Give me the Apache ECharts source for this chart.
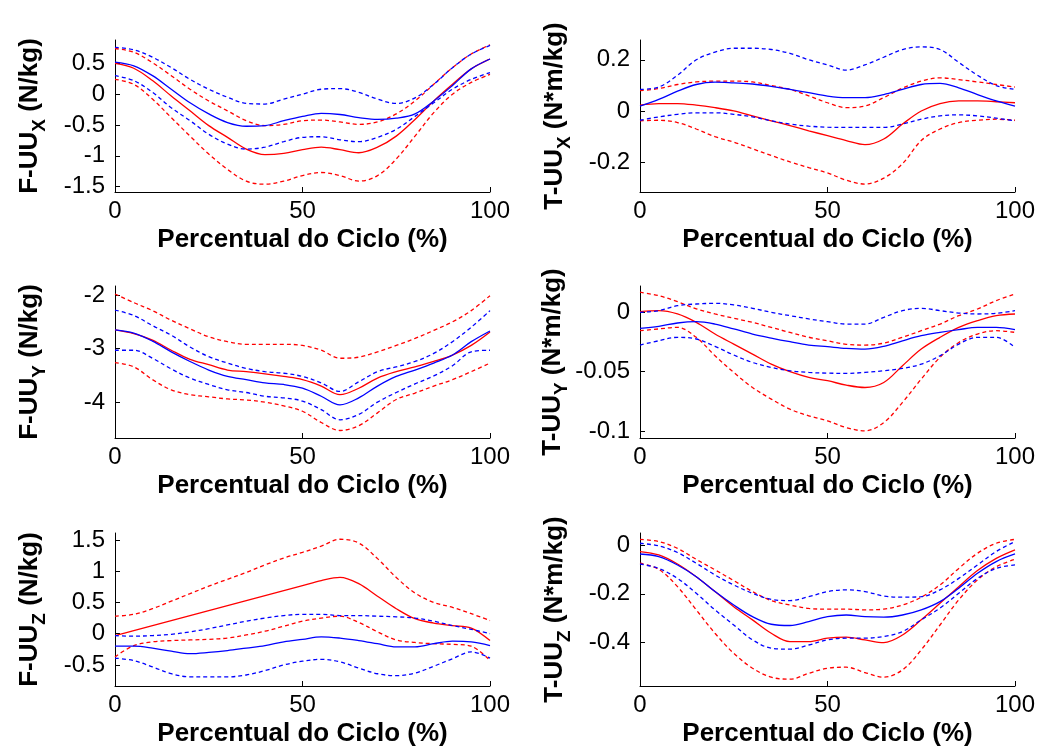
<!DOCTYPE html>
<html>
<head>
<meta charset="utf-8">
<script src="https://cdn.jsdelivr.net/npm/echarts@6/dist/echarts.min.js"></script>
<style>
  html, body { margin: 0; padding: 0; background: #ffffff; }
  #chart { width: 1042px; height: 751px; }
</style>
</head>
<body>
<div id="chart"></div>
<script>
// Gait cycle sampling (% of cycle)
const cycle = [0,5,10,15,20,25,30,35,40,45,50,55,60,65,70,75,80,85,90,95,100];

// F-UU X (N/kg)
const fxRedUp    = [0.74,0.68,0.51,0.30,0.08,-0.11,-0.27,-0.43,-0.51,-0.49,-0.43,-0.42,-0.45,-0.49,-0.45,-0.32,-0.11,0.16,0.43,0.65,0.80];
const fxRedMean  = [0.50,0.42,0.22,-0.03,-0.27,-0.51,-0.70,-0.89,-0.98,-0.96,-0.90,-0.86,-0.90,-0.95,-0.86,-0.68,-0.41,-0.11,0.16,0.41,0.57];
const fxRedLow   = [0.24,0.16,-0.08,-0.38,-0.68,-0.97,-1.22,-1.41,-1.46,-1.41,-1.32,-1.27,-1.32,-1.41,-1.32,-1.05,-0.68,-0.30,0.00,0.19,0.32];
const fxBlueUp   = [0.76,0.72,0.60,0.43,0.24,0.08,-0.05,-0.15,-0.16,-0.08,0.00,0.08,0.09,0.03,-0.08,-0.15,-0.06,0.16,0.43,0.65,0.79];
const fxBlueMean = [0.52,0.46,0.30,0.08,-0.14,-0.32,-0.46,-0.52,-0.51,-0.43,-0.36,-0.31,-0.33,-0.38,-0.41,-0.39,-0.32,-0.11,0.14,0.41,0.57];
const fxBlueLow  = [0.30,0.22,0.03,-0.22,-0.43,-0.65,-0.81,-0.89,-0.86,-0.77,-0.70,-0.69,-0.74,-0.77,-0.70,-0.57,-0.36,-0.14,0.08,0.24,0.35];
const fxTicks = [-1.5,-1,-0.5,0,0.5];

// T-UU X (N*m/kg)
const txRedUp    = [0.08,0.088,0.104,0.114,0.117,0.117,0.114,0.10,0.085,0.06,0.033,0.014,0.02,0.053,0.09,0.117,0.13,0.123,0.114,0.104,0.094];
const txRedMean  = [0.024,0.03,0.03,0.024,0.014,0.001,-0.018,-0.037,-0.056,-0.076,-0.095,-0.114,-0.13,-0.108,-0.05,0.001,0.03,0.04,0.04,0.037,0.033];
const txRedLow   = [-0.037,-0.035,-0.044,-0.069,-0.099,-0.12,-0.146,-0.172,-0.197,-0.219,-0.24,-0.268,-0.283,-0.26,-0.204,-0.114,-0.069,-0.044,-0.035,-0.031,-0.035];
const txBlueUp   = [0.085,0.094,0.14,0.20,0.23,0.245,0.245,0.24,0.225,0.20,0.18,0.16,0.18,0.21,0.24,0.25,0.24,0.19,0.14,0.10,0.085];
const txBlueMean = [0.02,0.046,0.078,0.104,0.113,0.11,0.106,0.097,0.085,0.072,0.059,0.053,0.053,0.065,0.085,0.104,0.108,0.091,0.065,0.04,0.02];
const txBlueLow  = [-0.035,-0.022,-0.012,-0.006,-0.006,-0.012,-0.022,-0.037,-0.05,-0.058,-0.062,-0.063,-0.063,-0.063,-0.05,-0.031,-0.018,-0.014,-0.018,-0.027,-0.037];
const txTicks = [-0.2,0,0.2];

// F-UU Y (N/kg)
const fyRedUp    = [-1.98,-2.14,-2.29,-2.47,-2.63,-2.78,-2.87,-2.92,-2.92,-2.92,-2.94,-3.03,-3.18,-3.16,-3.06,-2.94,-2.81,-2.66,-2.50,-2.29,-2.01];
const fyRedMean  = [-2.65,-2.72,-2.84,-3.03,-3.20,-3.30,-3.40,-3.43,-3.47,-3.52,-3.58,-3.70,-3.86,-3.74,-3.55,-3.43,-3.34,-3.24,-3.12,-2.94,-2.69];
const fyRedLow   = [-3.26,-3.34,-3.58,-3.77,-3.86,-3.90,-3.94,-3.96,-4.00,-4.07,-4.17,-4.38,-4.53,-4.44,-4.20,-3.95,-3.83,-3.70,-3.58,-3.43,-3.27];
const fyBlueUp   = [-2.28,-2.38,-2.57,-2.75,-2.97,-3.15,-3.27,-3.37,-3.43,-3.46,-3.52,-3.64,-3.80,-3.62,-3.43,-3.34,-3.24,-3.09,-2.87,-2.60,-2.29];
const fyBlueMean = [-2.65,-2.71,-2.86,-3.06,-3.24,-3.40,-3.52,-3.58,-3.64,-3.67,-3.74,-3.89,-4.05,-3.92,-3.70,-3.52,-3.40,-3.27,-3.12,-2.87,-2.67];
const fyBlueLow  = [-3.03,-3.03,-3.18,-3.38,-3.55,-3.67,-3.77,-3.82,-3.89,-3.92,-3.98,-4.14,-4.33,-4.23,-4.00,-3.82,-3.66,-3.51,-3.32,-3.06,-3.03];
const fyTicks = [-4,-3,-2];

// T-UU Y (N*m/kg)
const tyRedUp    = [0.017,0.014,0.009,0.003,-0.0014,-0.005,-0.0085,-0.0127,-0.017,-0.021,-0.024,-0.027,-0.0276,-0.026,-0.021,-0.0155,-0.0099,-0.0028,0.0028,0.0099,0.0155];
const tyRedMean  = [0.0006,0.0014,-0.0014,-0.0085,-0.0183,-0.0268,-0.0352,-0.0437,-0.0501,-0.0549,-0.0577,-0.0614,-0.0634,-0.0592,-0.045,-0.031,-0.0211,-0.0127,-0.007,-0.0028,-0.0014];
const tyRedLow   = [-0.0155,-0.014,-0.0127,-0.0211,-0.0366,-0.0507,-0.0634,-0.0732,-0.0817,-0.0873,-0.0915,-0.0972,-0.1,-0.093,-0.076,-0.0563,-0.038,-0.0254,-0.0183,-0.0155,-0.0169];
const tyBlueUp   = [0,0.0014,0.0056,0.007,0.0076,0.0062,0.0034,0,-0.0028,-0.0056,-0.0079,-0.0099,-0.0099,-0.0042,0.0014,0.0034,0.0014,-0.0006,-0.0014,-0.0008,0.0014];
const tyBlueMean = [-0.0135,-0.0118,-0.009,-0.0079,-0.0099,-0.014,-0.0183,-0.0217,-0.0248,-0.0276,-0.029,-0.0304,-0.031,-0.0287,-0.024,-0.0197,-0.0169,-0.0146,-0.0127,-0.0127,-0.0146];
const tyBlueLow  = [-0.0276,-0.024,-0.0211,-0.0225,-0.0287,-0.036,-0.0423,-0.0465,-0.0493,-0.0507,-0.0513,-0.0515,-0.0507,-0.0493,-0.0473,-0.0437,-0.0366,-0.0268,-0.0211,-0.0211,-0.0296];
const tyTicks = [-0.1,-0.05,0];

// F-UU Z (N/kg)
const fzRedUp    = [0.28,0.31,0.40,0.52,0.64,0.76,0.87,0.98,1.10,1.21,1.30,1.40,1.51,1.45,1.20,0.90,0.65,0.50,0.42,0.32,0.21];
const fzRedMean  = [-0.03,0.05,0.13,0.21,0.29,0.37,0.45,0.53,0.61,0.69,0.77,0.85,0.90,0.80,0.60,0.40,0.24,0.17,0.13,0.09,-0.11];
const fzRedLow   = [-0.37,-0.19,-0.13,-0.11,-0.10,-0.09,-0.07,-0.02,0.04,0.12,0.20,0.25,0.28,0.18,0.03,-0.10,-0.14,-0.16,-0.17,-0.20,-0.43];
const fzBlueUp   = [-0.03,-0.04,-0.03,-0.01,0.03,0.08,0.14,0.20,0.25,0.29,0.31,0.31,0.29,0.29,0.28,0.27,0.25,0.20,0.13,0.07,0.00];
const fzBlueMean = [-0.20,-0.20,-0.23,-0.28,-0.32,-0.30,-0.27,-0.23,-0.19,-0.13,-0.09,-0.05,-0.07,-0.11,-0.16,-0.21,-0.21,-0.16,-0.12,-0.13,-0.19];
const fzBlueLow  = [-0.39,-0.43,-0.53,-0.64,-0.69,-0.69,-0.69,-0.66,-0.59,-0.50,-0.44,-0.41,-0.45,-0.55,-0.64,-0.67,-0.63,-0.52,-0.40,-0.29,-0.39];
const fzTicks = [-0.5,0,0.5,1,1.5];

// T-UU Z (N*m/kg)
const tzRedUp    = [0.023,0.014,-0.014,-0.059,-0.102,-0.146,-0.191,-0.228,-0.246,-0.26,-0.263,-0.263,-0.266,-0.263,-0.246,-0.214,-0.164,-0.096,-0.034,0.007,0.023];
const tzRedMean  = [-0.027,-0.041,-0.078,-0.13,-0.191,-0.253,-0.307,-0.362,-0.396,-0.396,-0.382,-0.378,-0.389,-0.4,-0.369,-0.307,-0.239,-0.171,-0.105,-0.055,-0.02];
const tzRedLow   = [-0.075,-0.1,-0.171,-0.266,-0.362,-0.444,-0.505,-0.542,-0.55,-0.526,-0.505,-0.501,-0.523,-0.542,-0.512,-0.43,-0.328,-0.225,-0.143,-0.089,-0.059];
const tzBlueUp   = [0.007,-0.004,-0.031,-0.075,-0.123,-0.164,-0.198,-0.223,-0.228,-0.212,-0.191,-0.184,-0.191,-0.209,-0.214,-0.212,-0.184,-0.137,-0.082,-0.027,0.014];
const tzBlueMean = [-0.037,-0.048,-0.082,-0.13,-0.191,-0.246,-0.294,-0.325,-0.33,-0.314,-0.294,-0.287,-0.294,-0.296,-0.287,-0.266,-0.232,-0.177,-0.116,-0.068,-0.037];
const tzBlueLow  = [-0.078,-0.096,-0.137,-0.198,-0.266,-0.328,-0.389,-0.423,-0.427,-0.41,-0.389,-0.382,-0.382,-0.375,-0.355,-0.307,-0.259,-0.198,-0.137,-0.096,-0.082];
const tzTicks = [-0.4,-0.2,0];

const xTitle = 'Percentual do Ciclo (%)';

// Panels in reading order: row by row, left then right
const panels = [
  { label: ['F-UU', 'X', ' (N/kg)'],   ticks: fxTicks, min: -1.586, max: 0.878,
    red: [fxRedUp, fxRedMean, fxRedLow], blue: [fxBlueUp, fxBlueMean, fxBlueLow] },
  { label: ['T-UU', 'X', ' (N*m/kg)'], ticks: txTicks, min: -0.314, max: 0.277,
    red: [txRedUp, txRedMean, txRedLow], blue: [txBlueUp, txBlueMean, txBlueLow] },
  { label: ['F-UU', 'Y', ' (N/kg)'],   ticks: fyTicks, min: -4.67, max: -1.83,
    red: [fyRedUp, fyRedMean, fyRedLow], blue: [fyBlueUp, fyBlueMean, fyBlueLow] },
  { label: ['T-UU', 'Y', ' (N*m/kg)'], ticks: tyTicks, min: -0.106, max: 0.0222,
    red: [tyRedUp, tyRedMean, tyRedLow], blue: [tyBlueUp, tyBlueMean, tyBlueLow] },
  { label: ['F-UU', 'Z', ' (N/kg)'],   ticks: fzTicks, min: -0.836, max: 1.61,
    red: [fzRedUp, fzRedMean, fzRedLow], blue: [fzBlueUp, fzBlueMean, fzBlueLow] },
  { label: ['T-UU', 'Z', ' (N*m/kg)'], ticks: tzTicks, min: -0.578, max: 0.049,
    red: [tzRedUp, tzRedMean, tzRedLow], blue: [tzBlueUp, tzBlueMean, tzBlueLow] }
];

const FONT = 'Liberation Sans, Arial, sans-serif';
const colLeft = [115, 640];
const rowTop = [40, 286, 533];
const plotW = 375;
const plotH = [152, 152, 153];

const grid = [], xAxis = [], yAxis = [], series = [];

panels.forEach((p, i) => {
  const r = Math.floor(i / 2), c = i % 2;
  grid.push({ left: colLeft[c], top: rowTop[r], width: plotW, height: plotH[r], containLabel: false });

  xAxis.push({
    gridIndex: i, type: 'value', min: 0, max: 100, interval: 50,
    axisLine: { show: true, onZero: false, lineStyle: { color: '#000', width: 1 } },
    axisTick: { show: true, inside: true, length: 5, lineStyle: { color: '#000' } },
    axisLabel: { fontSize: 24, color: '#000', fontFamily: FONT, margin: 7, showMinLabel: true, showMaxLabel: true },
    splitLine: { show: false },
    name: xTitle, nameLocation: 'middle', nameGap: 35,
    nameTextStyle: { fontSize: 26, fontWeight: 'bold', color: '#000', fontFamily: FONT }
  });

  yAxis.push({
    gridIndex: i, type: 'value', min: p.min, max: p.max,
    axisLine: { show: true, onZero: false, lineStyle: { color: '#000', width: 1 } },
    axisTick: { show: true, inside: true, length: 5, customValues: p.ticks, lineStyle: { color: '#000' } },
    axisLabel: { fontSize: 24, color: '#000', fontFamily: FONT, margin: 10, customValues: p.ticks,
                 formatter: v => String(v) },
    splitLine: { show: false },
    name: '{m|' + p.label[0] + '}{s|' + p.label[1] + '}{m|' + p.label[2] + '}',
    nameLocation: 'middle', nameRotate: 90, nameGap: 66,
    nameTextStyle: {
      rich: {
        m: { fontSize: 26, fontWeight: 'bold', color: '#000', fontFamily: FONT, lineHeight: 32, verticalAlign: 'top' },
        s: { fontSize: 19, fontWeight: 'bold', color: '#000', fontFamily: FONT, lineHeight: 14, verticalAlign: 'bottom' }
      }
    }
  });

  const addLine = (vals, color, dashed) => {
    series.push({
      type: 'line', xAxisIndex: i, yAxisIndex: i,
      data: cycle.map((x, k) => [x, vals[k]]),
      smooth: 0.35, showSymbol: false, symbol: 'none', silent: true,
      lineStyle: { color: color, width: 1.3, type: dashed ? [4, 3] : 'solid' }
    });
  };
  addLine(p.red[0], '#ff0000', true);
  addLine(p.red[2], '#ff0000', true);
  addLine(p.red[1], '#ff0000', false);
  addLine(p.blue[0], '#0000ff', true);
  addLine(p.blue[2], '#0000ff', true);
  addLine(p.blue[1], '#0000ff', false);
});

const chart = echarts.init(document.getElementById('chart'), null, { renderer: 'canvas' });
chart.setOption({
  backgroundColor: '#ffffff',
  animation: false,
  grid: grid, xAxis: xAxis, yAxis: yAxis, series: series
});
</script>
</body>
</html>
